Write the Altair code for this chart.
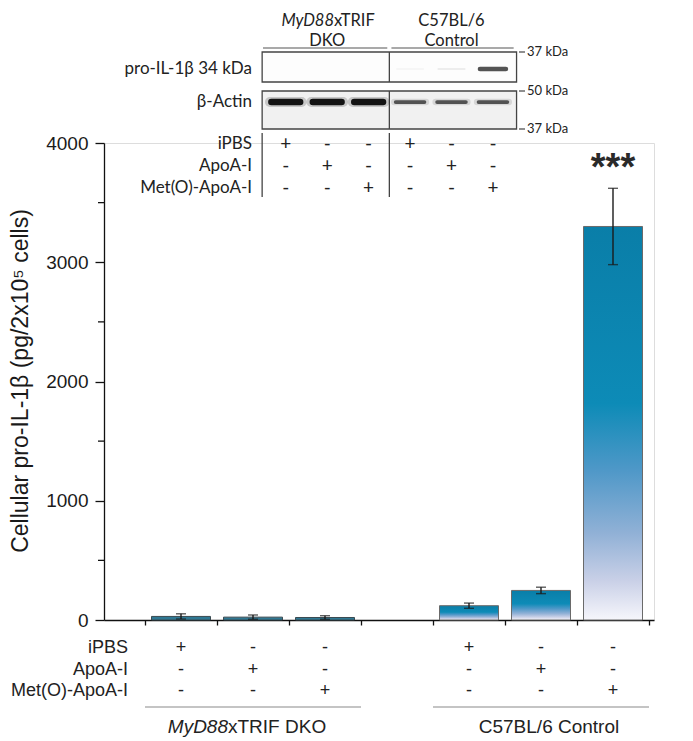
import altair as alt
import pandas as pd

# ---------------- data ----------------
groups = ["MyD88xTRIF DKO"] * 3 + ["C57BL/6 Control"] * 3
treatments = ["iPBS", "ApoA-I", "Met(O)-ApoA-I"] * 2
bar_pos = [1, 2, 3, 5, 6, 7]
means = [30, 24, 21, 120, 248, 3300]
sems = [22, 18, 15, 22, 27, 320]

row_labels = ["iPBS", "ApoA-I", "Met(O)-ApoA-I"]
ipbs_row = ["+", "-", "-", "+", "-", "-"]
apoa_row = ["-", "+", "-", "-", "+", "-"]
meto_row = ["-", "-", "+", "-", "-", "+"]

lanes = [1, 2, 3, 4, 5, 6]
actin_signal = [1.0, 1.0, 1.0, 0.5, 0.5, 0.5]
proil_signal = [0.0, 0.0, 0.0, 0.03, 0.07, 0.75]

y_major = [0, 1000, 2000, 3000, 4000]
y_minor = [500, 1500, 2500, 3500]
x_ticks = [0.5, 1.5, 2.5, 3.5, 4.5, 5.5, 6.5, 7.5]
group_spans = [(0.5, 3.5), (4.5, 7.5)]
group_names = ["MyD88xTRIF DKO", "C57BL/6 Control"]

# ---------------- frames ----------------
bars = pd.DataFrame({"group": groups, "treatment": treatments, "pos": bar_pos,
                     "mean": means, "sem": sems})
bars["lo"] = bars["mean"] - bars["sem"]
bars["hi"] = bars["mean"] + bars["sem"]

sym_rows = []
for r, row in enumerate([ipbs_row, apoa_row, meto_row]):
    for i, s in enumerate(row):
        sym_rows.append({"row": r, "pos": bar_pos[i], "lane": lanes[i], "sym": s})
syms = pd.DataFrame(sym_rows)
labels_df = pd.DataFrame({"row": [0, 1, 2], "label": row_labels})
blot = pd.DataFrame({"lane": lanes, "actin": actin_signal, "proil": proil_signal})
minor_df = pd.DataFrame({"v": y_minor})
spans_df = pd.DataFrame({"a": [s[0] for s in group_spans], "b": [s[1] for s in group_spans],
                         "name": group_names})

LANE_X = "2.455 + (datum.lane - 1) * 0.5755"
AX = "Liberation Sans"
TOP = "Lato"

xs = alt.Scale(domain=[0, 7.5], nice=False, zero=False)
ys = alt.Scale(domain=[0, 4000], nice=False)

X = alt.X("pos:Q", scale=xs,
          axis=alt.Axis(values=x_ticks, labels=False, title=None, grid=False,
                        tickSize=5, tickColor="#111", tickWidth=1.3,
                        domainColor="#111", domainWidth=1.3))
Y = alt.Y("mean:Q", scale=ys,
          axis=alt.Axis(values=y_major, format="d", title=None, grid=False, tickSize=9,
                        tickColor="#111", tickWidth=1.3, domainColor="#111",
                        domainWidth=1.3, labelFont=AX, labelFontSize=19,
                        labelColor="#1a1a1a", labelPadding=7))

grad = alt.Gradient(
    gradient="linear", x1=0, x2=0, y1=0, y2=1,
    stops=[alt.GradientStop(offset=0, color="#0a7ea8"),
           alt.GradientStop(offset=0.45, color="#0d8bb7"),
           alt.GradientStop(offset=0.62, color="#4f98c8"),
           alt.GradientStop(offset=0.78, color="#91b1d6"),
           alt.GradientStop(offset=0.9, color="#c9d0e7"),
           alt.GradientStop(offset=1, color="#f6f6fb")])

base = alt.Chart(bars)

bars_ctrl = base.transform_filter("datum.pos > 4").mark_bar(
    size=59, fill=grad, stroke="#6a6a6a", strokeWidth=1).encode(x=X, y=Y)
bars_dko = base.transform_filter("datum.pos < 4").mark_bar(
    size=59, fill="#2f7893", stroke="#3a4a50", strokeWidth=1).encode(x="pos:Q", y="mean:Q")

err = base.mark_rule(color="#1a1a1a", strokeWidth=1.4).encode(
    x="pos:Q", y="lo:Q", y2="hi:Q")
cap_hi = base.mark_tick(orient="horizontal", size=10, thickness=1.4, color="#1a1a1a").encode(
    x="pos:Q", y="hi:Q")
cap_lo = base.mark_tick(orient="horizontal", size=10, thickness=1.4, color="#1a1a1a").encode(
    x="pos:Q", y="lo:Q")

minor = alt.Chart(minor_df).mark_rule(color="#111", strokeWidth=1.3).encode(
    y="v:Q", x=alt.value(-6), x2=alt.value(0))

stars = alt.Chart(pd.DataFrame({"pos": [7], "t": ["***"]})).mark_text(
    font=AX, fontSize=38, fontWeight="bold", color="#2a2a2a", baseline="alphabetic").encode(
    x="pos:Q", y=alt.value(37), text="t:N")

ytitle = alt.Chart(pd.DataFrame({"t": ["Cellular pro-IL-1β (pg/2x10⁵ cells)"]})).mark_text(
    font=AX, fontSize=23, angle=270, color="#1a1a1a", baseline="middle", align="center").encode(
    x=alt.value(-83), y=alt.value(238), text="t:N")

# bottom table
bot_syms = alt.Chart(syms).transform_calculate(yy="505 + datum.row * 21.5").mark_text(
    font=AX, fontSize=18, color="#222", baseline="middle").encode(
    x="pos:Q", y=alt.Y("yy:Q", scale=None), text="sym:N")
bot_labels = alt.Chart(labels_df).transform_calculate(yy="505 + datum.row * 21.5").mark_text(
    font=AX, fontSize=18, color="#222", baseline="middle", align="right").encode(
    x=alt.value(24), y=alt.Y("yy:Q", scale=None), text="label:N")
bot_lines = alt.Chart(spans_df).mark_rule(color="#8a8a8a", strokeWidth=1.2).encode(
    x="a:Q", x2="b:Q", y=alt.value(564))
bot_g1a = alt.Chart(pd.DataFrame({"t": ["MyD88"]})).mark_text(
    font=AX, fontSize=19, fontStyle="italic", color="#222", align="right", baseline="middle").encode(
    x=alt.value(124), y=alt.value(584), text="t:N")
bot_g1b = alt.Chart(pd.DataFrame({"t": ["xTRIF DKO"]})).mark_text(
    font=AX, fontSize=19, color="#222", align="left", baseline="middle").encode(
    x=alt.value(124), y=alt.value(584), text="t:N")
bot_g2 = alt.Chart(spans_df.iloc[[1]]).transform_calculate(c="(datum.a + datum.b) / 2").mark_text(
    font=AX, fontSize=19, color="#222", align="center", baseline="middle", dx=8).encode(
    x="c:Q", y=alt.value(584), text="name:N")

# top header
hdr_df = pd.DataFrame({"lane": [0.45, 3.55], "lane2": [3.45, 6.5]})
hdr_lines = alt.Chart(hdr_df).transform_calculate(
    xa=LANE_X, xb="2.455 + (datum.lane2 - 1) * 0.5755").mark_rule(
    color="#555", strokeWidth=1.2).encode(x="xa:Q", x2="xb:Q", y=alt.value(-95))
h1a = alt.Chart(pd.DataFrame({"t": ["MyD88"]})).mark_text(
    font=TOP, fontSize=16.5, fontStyle="italic", color="#222", align="right", baseline="middle").encode(
    x=alt.value(230), y=alt.value(-122), text="t:N")
h1b = alt.Chart(pd.DataFrame({"t": ["xTRIF"]})).mark_text(
    font=TOP, fontSize=16.5, color="#222", align="left", baseline="middle").encode(
    x=alt.value(230), y=alt.value(-122), text="t:N")
h_rest = alt.Chart(pd.DataFrame({"lane": [2.0, 5.0, 5.0], "row": [1, 0, 1],
                                 "t": ["DKO", "C57BL/6", "Control"]})).transform_calculate(
    xx=LANE_X, yy="-122 + datum.row * 19.5").mark_text(
    font=TOP, fontSize=16.5, color="#222", align="center", baseline="middle").encode(
    x="xx:Q", y=alt.Y("yy:Q", scale=None), text="t:N")

# blot frames
box_df = pd.DataFrame({"lane": [0.43, 0.43], "lane2": [6.57, 6.57], "y0": [-91, -52],
                       "y1": [-61, -14], "fill": ["#fdfdfd", "#f1f1f1"]})
boxes = alt.Chart(box_df).transform_calculate(
    xa=LANE_X, xb="2.455 + (datum.lane2 - 1) * 0.5755").mark_rect(
    stroke="#444", strokeWidth=1.3).encode(
    x="xa:Q", x2="xb:Q", y=alt.Y("y0:Q", scale=None), y2="y1:Q",
    fill=alt.Fill("fill:N", scale=None))
div = alt.Chart(pd.DataFrame({"lane": [3.5, 3.5], "y0": [-91, -52], "y1": [-61, -14]})).transform_calculate(
    xa=LANE_X).mark_rule(color="#444", strokeWidth=1.3).encode(
    x="xa:Q", y=alt.Y("y0:Q", scale=None), y2="y1:Q")
sep = alt.Chart(pd.DataFrame({"lane": [0.43, 3.5]})).transform_calculate(
    xa=LANE_X).mark_rule(color="#444", strokeWidth=1.3).encode(
    x="xa:Q", y=alt.value(-10), y2=alt.value(54))

actin = alt.Chart(blot).transform_calculate(
    xc=LANE_X, xa="datum.xc - 0.2", xb="datum.xc + 0.2",
    sw="1 + 5.5 * datum.actin", op="0.35 + 0.62 * datum.actin").mark_rule(
    color="#0d0d0d", strokeCap="round").encode(
    x="xa:Q", x2="xb:Q", y=alt.value(-41),
    strokeWidth=alt.StrokeWidth("sw:Q", scale=None),
    opacity=alt.Opacity("op:Q", scale=None))
actin_halo = alt.Chart(blot).transform_calculate(
    xc=LANE_X, xa="datum.xc - 0.22", xb="datum.xc + 0.22",
    sw="3 + 7 * datum.actin", op="0.15 * datum.actin + 0.05").mark_rule(
    color="#222", strokeCap="round").encode(
    x="xa:Q", x2="xb:Q", y=alt.value(-41),
    strokeWidth=alt.StrokeWidth("sw:Q", scale=None),
    opacity=alt.Opacity("op:Q", scale=None))
proil = alt.Chart(blot).transform_calculate(
    xc=LANE_X, xa="datum.xc - 0.18", xb="datum.xc + 0.18",
    sw="2 + 3.5 * datum.proil", op="datum.proil").mark_rule(
    color="#1a1a1a", strokeCap="round").encode(
    x="xa:Q", x2="xb:Q", y=alt.value(-74),
    strokeWidth=alt.StrokeWidth("sw:Q", scale=None),
    opacity=alt.Opacity("op:Q", scale=None))

blot_labels = alt.Chart(pd.DataFrame({"t": ["pro-IL-1β 34 kDa", "β-Actin"], "yy": [-74, -41]})).mark_text(
    font=TOP, fontSize=17, color="#222", align="right", baseline="middle").encode(
    x=alt.value(148), y=alt.Y("yy:Q", scale=None), text="t:N")

kda_df = pd.DataFrame({"t": ["37 kDa", "50 kDa", "37 kDa"], "yy": [-91, -52, -14]})
kda_ticks = alt.Chart(kda_df).mark_rule(color="#444", strokeWidth=1.2).encode(
    x=alt.value(415), x2=alt.value(421), y=alt.Y("yy:Q", scale=None))
kda_text = alt.Chart(kda_df).mark_text(
    font=TOP, fontSize=13, color="#222", align="left", baseline="middle").encode(
    x=alt.value(423), y=alt.Y("yy:Q", scale=None), text="t:N")

top_syms = alt.Chart(syms).transform_calculate(xx=LANE_X, yy="1 + datum.row * 22").mark_text(
    font=TOP, fontSize=19, color="#222", baseline="middle").encode(
    x="xx:Q", y=alt.Y("yy:Q", scale=None), text="sym:N")
top_labels = alt.Chart(labels_df).transform_calculate(yy="1 + datum.row * 22").mark_text(
    font=TOP, fontSize=17, color="#222", baseline="middle", align="right").encode(
    x=alt.value(148), y=alt.Y("yy:Q", scale=None), text="label:N")

chart = alt.layer(
    bars_ctrl, bars_dko, err, cap_hi, cap_lo, minor, stars, ytitle,
    bot_syms, bot_labels, bot_lines, bot_g1a, bot_g1b, bot_g2,
    hdr_lines, h1a, h1b, h_rest, boxes, div, sep, actin_halo, actin, proil,
    blot_labels, kda_ticks, kda_text, top_syms, top_labels,
).properties(
    width=550, height=477,
    autosize=alt.AutoSizeParams(type="none"),
    padding={"left": 96, "top": 135, "right": 25, "bottom": 120},
).configure_view(stroke=None).configure(background="white")

chart.save("out.html", embed_options={"renderer": "svg", "actions": False})
